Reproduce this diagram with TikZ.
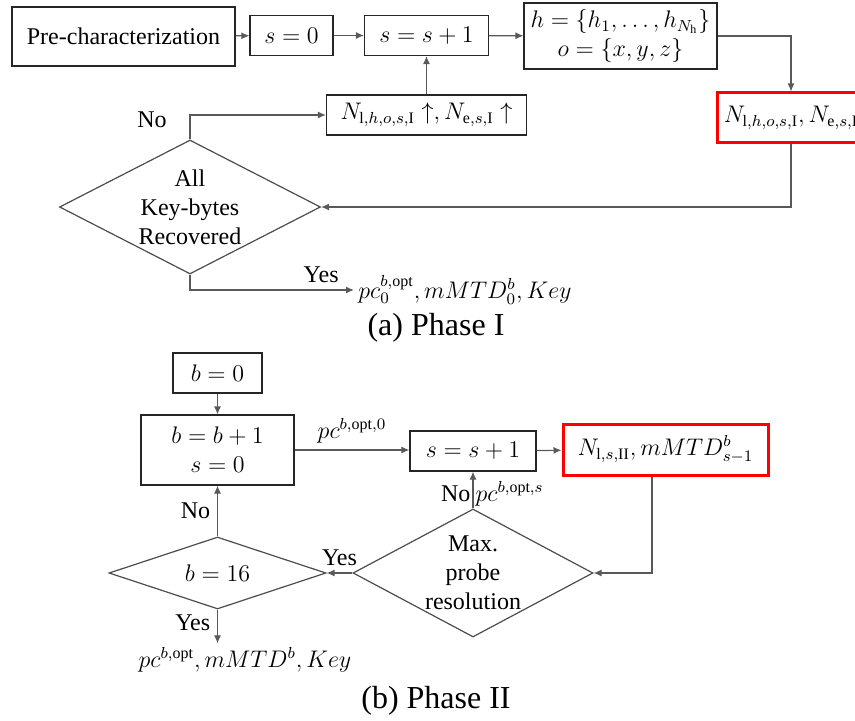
\documentclass[tikz,border=0pt]{standalone}
\usepackage{fontspec}
\setmainfont{Liberation Serif}
\usetikzlibrary{shapes.geometric, arrows.meta, positioning}

\begin{document}
\begin{tikzpicture}[x=0.5pt, y=-0.5pt,
    every node/.style={font=\fontsize{12}{14.5}\selectfont},
    stepbox/.style={draw=black!85, rectangle, line width=0.6pt, align=center, inner sep=2pt},
    resultbox/.style={draw=red, rectangle, line width=1.5pt, align=center, inner sep=2pt},
    decision/.style={draw=black!70, diamond, line width=0.6pt, inner sep=0pt},
    flow/.style={draw=black!65, line width=0.6pt, -{Latex[length=4pt,width=3.5pt]}},
    caption/.style={font=\fontsize{16}{19}\selectfont, inner sep=0pt}
]
    \useasboundingbox (0,0) rectangle (855,721);

    % Phase I (Row 1)
    \node (pre) [stepbox, minimum width=111.5pt, minimum height=29.5pt] at (123.5, 36.5) {Pre-characterization};
    \node (szero) [stepbox, minimum width=41.5pt, minimum height=20pt] at (291.5, 35.5) {$s=0$};
    \node (sinc) [stepbox, minimum width=62pt, minimum height=20pt] at (426.5, 35.5) {$s=s+1$};
    \node (hset) [stepbox, minimum width=96.5pt, minimum height=33pt] at (620.5, 36) {
        $h=\{h_1,\ldots,h_{N_\mathrm{h}}\}$ \\
        $o=\{x,y,z\}$
    };
    \node (countI) [resultbox, minimum width=74pt, minimum height=25pt] at (791, 118) {$N_{\mathrm{l},h,o,s,\mathrm{I}}, N_{\mathrm{e},s,\mathrm{I}}$};

    % Phase I (Row 2)
    \node (update) [stepbox, minimum width=100pt, minimum height=20pt] at (426.5, 115) {$N_{\mathrm{l},h,o,s,\mathrm{I}}\uparrow, N_{\mathrm{e},s,\mathrm{I}}\uparrow$};
    \node (allkeys) [decision, minimum width=130.5pt, minimum height=67pt] at (190, 207) {};
    \node (allkeystext) [align=center] at (allkeys) {All\\Key-bytes\\Recovered};
    \node (outI) [anchor=west, inner sep=2pt] at (354, 290) {$pc_0^{b,\mathrm{opt}}, mMTD_0^b, Key$};
    \node (capI) [caption] at (436, 328) {(a) Phase I};

    % Phase II
    \node (bzero) [stepbox, minimum width=44.5pt, minimum height=20pt] at (217.5, 373) {$b=0$};
    \node (binc) [stepbox, minimum width=76.5pt, minimum height=35pt] at (217.5, 450) {
        $b=b+1$ \\
        $s=0$
    };
    \node (sincII) [stepbox, minimum width=63pt, minimum height=20pt] at (473, 451) {$s=s+1$};
    \node (countII) [resultbox, minimum width=102.5pt, minimum height=25.5pt] at (665.5, 449.5) {$N_{\mathrm{l},s,\mathrm{II}}, mMTD_{s-1}^b$};
    \node (maxres) [decision, minimum width=120pt, minimum height=64pt] at (473, 573) {};
    \node (maxrestext) [align=center] at (maxres) {Max.\\probe\\resolution};
    \node (lastbyte) [decision, minimum width=108.5pt, minimum height=36pt] at (217.5, 573) {};
    \node (lastbytetext) at (lastbyte) {$b=16$};
    \node (outII) [inner sep=2pt] at (245, 660) {$pc^{b,\mathrm{opt}}, mMTD^b, Key$};
    \node (capII) [caption] at (436, 701) {(b) Phase II};

    % Connections Phase I
    \draw [flow] (pre) -- (szero);
    \draw [flow] (szero) -- (sinc);
    \draw [flow] (sinc) -- (hset);
    \draw [flow] (hset.east) -| (countI.north);
    \draw [flow] (countI.south) |- (allkeys.east);
    \draw [flow] (allkeys.north) |- node[pos=0.4, left=8pt] {No} (update.west);
    \draw [flow] (update) -- (sinc);
    \draw [flow] (allkeys.south) |- node[pos=0.9, above] {Yes} (outI.west);

    % Connections Phase II
    \draw [flow] (bzero) -- (binc);
    \draw [flow] (binc.east) -- node[above] {$pc^{b,\mathrm{opt},0}$} (binc.east -| sincII.west);
    \draw [flow] (sincII) -- (countII);
    \draw [flow] ([xshift=-6.75pt]countII.south) |- (maxres.east);
    \draw [flow] (maxres.north) -- node[left, inner sep=1pt, pos=0.4] {No} node[right, inner sep=1pt, pos=0.4] {$pc^{b,\mathrm{opt},s}$} (sincII.south);
    \draw [flow] (maxres.west) -- node[above] {Yes} (lastbyte.east);
    \draw [flow] (lastbyte.north) -- node[left] {No} (binc.south);
    \draw [flow] (lastbyte.south) -- node[left, pos=0.4] {Yes} (lastbyte.south |- outII.north);

\end{tikzpicture}
\end{document}
